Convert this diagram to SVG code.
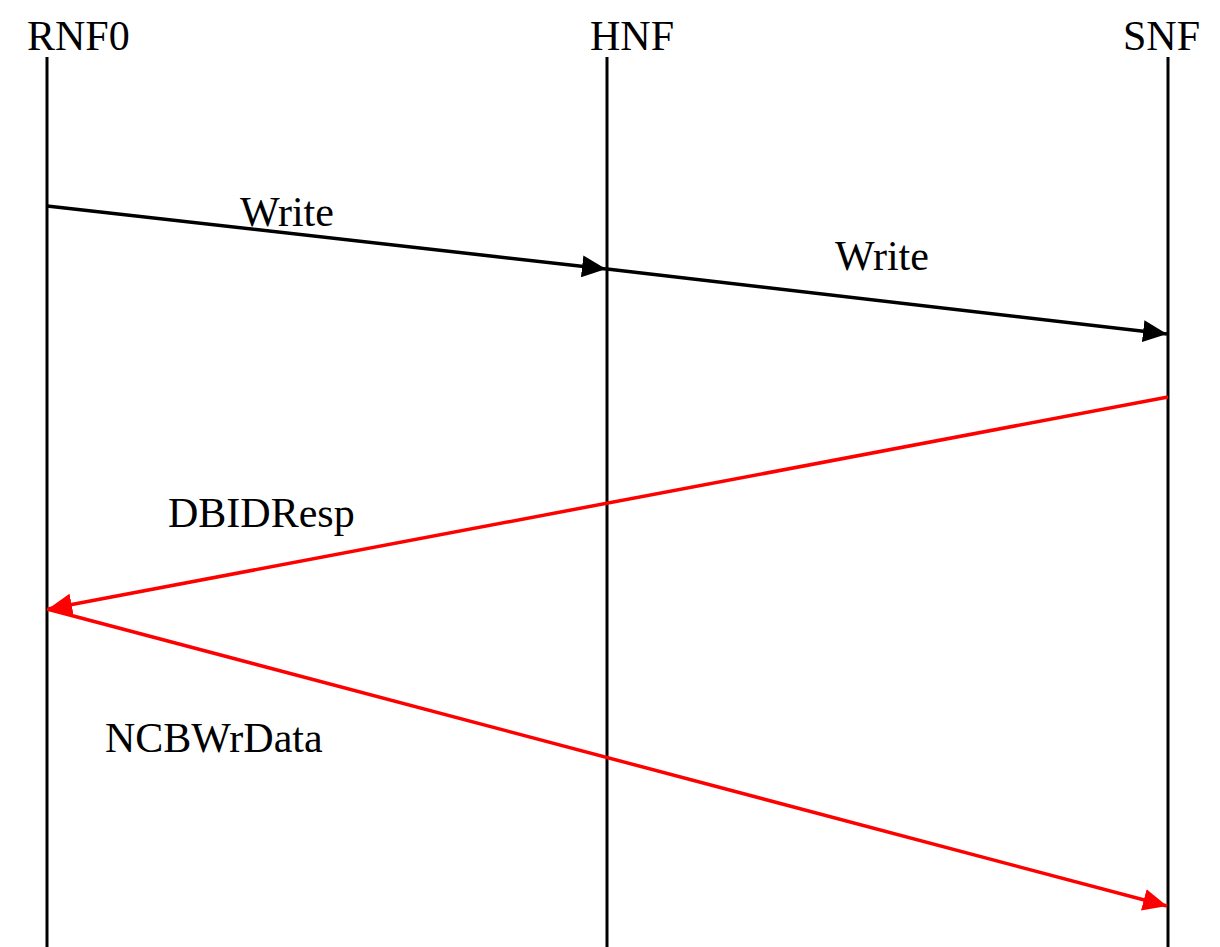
<svg xmlns="http://www.w3.org/2000/svg" width="1220" height="947" viewBox="0 0 1220 947">
<style>
text{font-family:"Liberation Serif","Times New Roman",serif;font-size:42px;fill:#000}
.life{stroke:#000;stroke-width:3;fill:none}
.blk{stroke:#000;stroke-width:3.5;fill:none}
.red{stroke:#ff0000;stroke-width:3.5;fill:none}
</style>
<defs>
<marker id="ab" markerUnits="userSpaceOnUse" markerWidth="26" markerHeight="22" refX="24" refY="11" orient="auto">
<path d="M0,0 L24,11 L0,22 Z" fill="#000"/>
</marker>
<marker id="ar" markerUnits="userSpaceOnUse" markerWidth="26" markerHeight="22" refX="24" refY="11" orient="auto">
<path d="M0,0 L24,11 L0,22 Z" fill="#ff0000"/>
</marker>
</defs>
<g id="RNF0"><text x="27" y="50">RNF0</text><line class="life" x1="47" y1="57" x2="47" y2="947"/></g>
<g id="HNF"><text x="590" y="50">HNF</text><line class="life" x1="607" y1="57" x2="607" y2="947"/></g>
<g id="SNF"><text x="1123" y="50">SNF</text><line class="life" x1="1168" y1="57" x2="1168" y2="947"/></g>
<g id="connectors">
<line class="blk" x1="47" y1="206" x2="606" y2="269" marker-end="url(#ab)"/>
<line class="blk" x1="607" y1="269" x2="1167" y2="334" marker-end="url(#ab)"/>
<line class="red" x1="1168" y1="397" x2="48" y2="609" marker-end="url(#ar)"/>
<line class="red" x1="47" y1="609" x2="1167" y2="906" marker-end="url(#ar)"/>
<text x="240" y="226">Write</text>
<text x="835" y="270">Write</text>
<text x="168" y="527">DBIDResp</text>
<text x="105" y="752">NCBWrData</text>
</g>
</svg>
